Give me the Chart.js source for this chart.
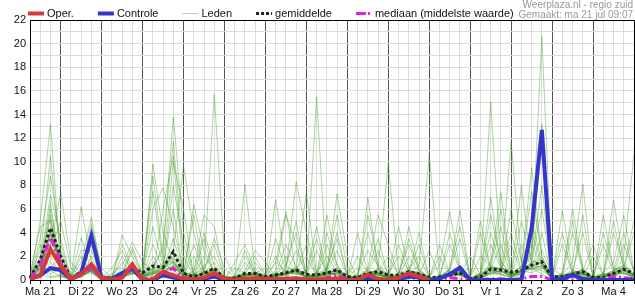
<!DOCTYPE html>
<html>
<head>
<meta charset="utf-8">
<script src="https://cdn.jsdelivr.net/npm/chart.js@4/dist/chart.umd.min.js"></script>
<style>
    html, body { margin: 0; padding: 0; background: #fff; }
    #wrap { width: 635px; height: 300px; position: relative; }
</style>
</head>
<body>
<div id="wrap"><canvas id="chart"></canvas></div>
<script>
// dagen (label op 12:00), reeks begint ma 21 06:00, stap 6 uur
const dagen = ['Ma 21', 'Di 22', 'Wo 23', 'Do 24', 'Vr 25', 'Za 26', 'Zo 27', 'Ma 28',
    'Di 29', 'Wo 30', 'Do 31', 'Vr 1', 'Za 2', 'Zo 3', 'Ma 4', 'Di 5'];
const uren = ['00:00', '06:00', '12:00', '18:00'];

// neerslag in mm per 6 uur
const oper = [0.1,0.35,2.6, 1.2,0.05,0.5,1.33, 0.15,0.05,0.2,1.33, 0,0.05,0.7,0.4, 0.1,0.05,0.2,0.56,
    0.1,0,0.1,0.15, 0.1,0.05,0.1,0.15, 0.05,0.05,0.1,0.1, 0,0,0.45,0.1, 0,0.2,0.55,0.3,
    0,null,null,null, null,null,null,null, null,null,null,null, null,null,null,null, null,null,null,null, null];
const controle = [0.1,0.4,1.0, 0.85,0.05,0.6,3.75, 0.15,0.1,0.6,1.0, 0,0,0.4,0.2, 0.1,0,0.1,0.3,
    0,0,0.05,0.1, 0.05,0,0.05,0.05, 0,0,0.05,0.1, 0,0,0.1,0.05, 0,0.05,0.3,0.2,
    0,0.1,0.5,1.04, 0,0,0,0, 0,0,4.37,12.7, 0,0.1,0.42,0.1, 0,0,0,0, 0];
const gemiddelde = [0.2,1.7,4.4, 2.0,0.1,0.7,1.2, 0.2,0.15,0.5,0.95, 0.6,1.18,1.07,2.4, 0.56,0.28,0.56,0.99,
    0.14,0.14,0.56,0.56, 0.28,0.42,0.6,0.85, 0.48,0.42,0.6,0.85, 0.28,0.2,0.56,0.7, 0.42,0.4,0.7,0.5,
    0.2,0.25,0.4,0.6, 0.1,0.25,0.93,0.85, 0.65,0.8,1.25,1.55, 0.28,0.28,0.48,0.7, 0.23,0.2,0.56,0.9, 0.56];
const mediaan = [0.1,1.2,3.6, 1.5,0.05,0.4,1.0, 0.1,0.05,0.3,0.9, 0.1,0.2,0.6,1.0, 0.2,0.1,0.2,0.5,
    0.05,0.05,0.1,0.15, 0.1,0.1,0.2,0.15, 0.05,0.05,0.2,0.4, 0.05,0.05,0.2,0.1, 0.05,0.1,0.2,0.1,
    0,0.05,0.2,0.1, 0,0.05,0.1,0.1, 0.05,0.1,0.3,0.3, 0,0.05,0.1,0.1, 0,0.1,0.3,0.2, 0.1];

const leden = [
    [0.2,3.5,8.8, 3,0.1,0.3,0.8, 0.1,0,0.4,2.5, 0.3,0.6,0.4,1.2, 1,0.2,3.5,0.5, 0,0.1,0.3,0.6, 1,0.2,0.5,2.5, 0.4,0.2,0.8,7.3, 2,0.1,0.3,0.6, 0.2,0.1,0.5,0.3, 0,0.2,4,0.8, 0,0.1,0.6,0.4, 0.3,8,1,0.5, 0,0.2,0.4,5.5, 0.1,0,0.3,0.6, 0.2],
    [0.1,0.8,5.5, 0.5,0,0.6,3, 0.2,0.3,1.5,0.6, 0.2,1.5,0.9,8, 3,0.4,0.6,0.8, 0.1,0,0.2,0.5, 0.3,6.8,1.2,0.7, 0.2,0.5,0.3,0.9, 0.1,0.4,4,1, 0.3,0.2,0.6,0.4, 2.5,0.3,0.5,0.7, 0.1,0.5,4,1.2, 0.3,0.8,2,13.2, 0.1,0.3,0.5,0.9, 0.2,0.4,0.8,4, 0.6],
    [0,1.2,3.5, 2,0.2,3.6,0.7, 0,0.1,0.5,0.9, 0.4,9.8,4,1.5, 0.3,0.2,0.7,0.9, 0.1,0.3,2.5,0.4, 0.1,0.4,0.6,0.5, 0.6,3.5,0.4,0.6, 0,0.2,0.5,0.3, 0.4,4.5,1,0.2, 0.1,0.2,0.6,0.4, 0,0.3,1.5,7.4, 0.8,0.6,1.2,2.5, 0.5,0.1,0.3,0.4, 0,0.2,0.5,0.7, 0.3],
    [0.3,5,13.2, 1.2,0,0.4,1, 0.1,0,0.3,0.8, 0.2,0.5,0.8,2, 0.5,2,0.4,0.6, 0,0.2,0.6,2, 0.4,0.2,1,5, 0.3,0.1,0.5,0.4, 0.2,2,0.6,0.5, 0.1,0.3,2,0.6, 0,0.2,0.4,0.6, 0.2,4,0.8,0.5, 0.2,0.4,1,4, 0,0.3,0.6,0.8, 0.1,0.5,6.8,1.5, 0.4],
    [0.1,0.6,4.5, 1,0.1,0.2,0.9, 0.2,0.5,1.2,3.2, 1.5,0.8,0.3,0.6, 0.2,0.1,0.8,3.5, 1,0.2,0.4,0.3, 0.2,0.5,0.3,0.6, 0.8,15.5,0.5,0.6, 0,0.1,0.3,1, 0.4,0.2,0.7,3, 0.2,0.1,0.3,0.5, 0,0.2,0.5,0.6, 6,1.5,0.8,1.2, 0.1,3,0.6,0.4, 0,0.3,0.4,0.8, 0.5],
    [0.2,2.5,2, 0.4,0.1,1.5,5.3, 0.5,0.1,0.2,0.6, 0.1,0.4,6,10.5, 0.6,0.1,0.2,0.5, 0,0.1,0.3,0.4, 0.1,0.3,0.6,0.8, 3,0.2,0.4,0.7, 0.3,0.1,7,0.9, 0.2,0.3,0.6,0.4, 0,0.1,1,4.5, 0.2,0.3,0.7,0.5, 0.2,0.6,5,1.5, 0,0.1,0.3,0.8, 3,0.4,0.5,0.6, 0.2],
    [0,1.5,7.2, 3.5,0.2,0.4,0.6, 0,0.2,0.3,1.2, 0.6,1.2,2.5,13.8, 4,0.5,0.3,0.8, 0.1,0,1.5,0.5, 0.2,0.6,0.4,0.9, 0.3,0.4,4,1.2, 0.2,0.1,0.4,0.6, 0.5,2,0.8,0.4, 0.1,0.3,0.5,0.9, 0.1,0.6,7,1.2, 0.4,0.5,1.5,8, 0,0.2,0.6,0.9, 0.3,0.1,0.5,2, 10.7],
    [0.4,4.5,5, 0.8,0,0.3,2, 0.1,0,0.2,0.5, 1,7.5,1.5,0.8, 0.2,0.4,1.2,2, 0.3,0.1,0.5,0.7, 0.3,1.5,5.8,0.6, 0.2,0.4,0.7,1, 0.1,0.3,0.8,3.5, 0.4,0.2,0.5,0.6, 0.1,3,0.6,0.4, 0,0.2,0.5,0.8, 3,0.6,1.2,1.5, 0.1,0.5,1.5,8.1, 0.2,0.3,0.6,0.9, 0.4],
    [0.1,1,6, 1.5,0,0.5,1.2, 0.3,0.2,2,0.8, 0.2,0.9,0.5,1.6, 0.4,6.4,2.5,0.6, 0.1,0.2,0.4,0.3, 0.5,2,0.4,0.8, 0.2,0.3,1,5.5, 1,0.2,0.5,0.4, 0.3,0.1,0.4,0.8, 0.2,0.1,0.6,0.5, 2,0.4,0.9,0.6, 0.5,1.2,9.5,2, 0.2,0.5,0.4,0.7, 0.1,4,1,0.5, 0.3],
    [0.2,2,1.5, 0.6,0.3,6.2,1.5, 0.1,0,0.4,0.9, 0.3,3,0.8,3.5, 0.5,0.3,0.4,1, 0.2,1,0.6,0.4, 0.1,0.3,0.9,8.3, 4,0.5,0.3,0.6, 0.2,0.1,0.4,0.5, 0.1,0.4,3.5,0.8, 0.2,0.1,0.3,0.6, 0,0.5,1.2,4.5, 0.4,0.8,1,1.5, 0.3,4,0.5,0.6, 0.1,0.2,0.7,1, 4],
    [0,0.7,4, 1.2,0.1,0.8,4, 0.3,0.1,0.6,1.5, 0.2,0.5,1,2.5, 9.7,4,0.6,0.5, 0,0.2,0.8,2.5, 1.5,0.3,0.5,0.7, 0.2,0.1,0.6,0.4, 0.1,0.5,2.5,1.2, 0.2,0.1,0.4,0.5, 0.3,1.2,5.8,1, 0.1,0.2,0.6,0.8, 0.2,1,3,1.2, 0,0.2,0.4,0.5, 0.3,0.6,1.5,5.5, 0.8],
    [0.3,1.8,10.5, 1.5,0.1,1,0.7, 0.1,0.1,0.3,0.6, 0.4,1,1.2,6, 0.5,0.6,4,1.2, 0.2,0.1,0.3,0.5, 0.2,0.5,3,1.1, 0.4,2.5,0.6,0.8, 0.1,0.3,0.5,0.9, 9.9,0.6,0.4,0.3, 0.1,0.2,0.6,0.7, 0.2,5,1,0.9, 0.3,0.7,2.5,12, 0.2,0.1,0.5,0.3, 2,0.4,0.3,0.8, 0.2],
    [0.1,3,0.8, 0.3,0,0.6,1.1, 0.2,0.3,3,1, 0.5,4.5,1.2,1.8, 0.3,0.5,1,15.7, 2,0.3,0.4,0.6, 0.1,0.4,0.7,0.5, 0.3,0.6,0.9,4, 0.4,0.1,0.3,0.5, 0.2,0.6,0.9,2, 0.1,0.4,0.8,0.6, 0.1,0.3,1.1,0.9, 4,0.8,0.6,1, 0.1,0.5,6,1, 0.1,0.3,0.5,0.6, 0.2],
    [0.2,1.4,3, 7.4,1.5,0.5,0.9, 0.2,0.1,0.5,0.7, 0.3,0.8,3,11.7, 2,0.3,0.5,0.8, 0.1,0.2,0.5,0.6, 0.3,0.4,1.3,4, 0.5,0.3,0.4,0.6, 0.2,1,0.4,0.5, 0.1,0.3,0.7,0.6, 0.2,2,0.5,0.4, 0.1,0.6,15.1,1.5, 0.5,0.8,1.5,6, 0.3,0.2,0.6,0.5, 0.1,0.3,4,1.2, 0.6],
    [0.1,1.1,6.5, 0.8,0,0.4,1.5, 0,0.2,0.6,2.8, 0.4,0.6,0.8,2.5, 0.5,0.2,0.7,0.9, 0.3,0.2,8.1,0.7, 0.2,0.3,0.8,0.6, 0.3,0.4,5.5,1.2, 0.2,0.3,0.6,0.4, 0.3,0.5,3,0.8, 0.1,0.3,0.5,0.9, 0.2,0.4,1.3,6, 0.5,0.7,1,0.8, 0.2,5.9,0.8,0.6, 0.1,0.4,0.8,1.2, 0.3],
    [0.3,1.5,0.5, 1,0.2,2,0.6, 0.1,0.1,0.4,0.8, 0.2,1,0.6,1.3, 0.3,0.8,5.5,4.5, 0.3,0.1,0.4,0.5, 0.2,0.6,0.4,0.9, 2,0.3,0.6,0.8, 0.4,0.2,1,5.5, 3,0.3,0.6,0.5, 0.1,0.2,0.4,0.6, 1,0.2,0.8,0.7, 0.4,3,1,1.2, 0.1,0.3,0.6,0.5, 0.2,3,0.6,0.8, 0.3],
    [0,0.9,3.8, 0.6,0.1,0.3,0.8, 0.2,1,2.5,0.7, 0.3,0.5,0.7,1, 0.4,3,0.6,0.5, 0.1,0.3,0.5,0.4, 0.2,3.5,0.8,1, 0.3,0.2,0.7,2.5, 0.3,0.2,0.6,0.8, 0.5,0.2,0.6,1.2, 10.6,0.4,0.3,0.5, 0.2,0.3,3,1, 0.6,0.4,1.5,1.8, 0.1,0.6,5,0.8, 0.2,0.5,0.4,1, 0.4],
    [0.2,1.3,2.5, 5,1,0.3,0.9, 0.1,0.2,0.3,0.5, 0.8,8.8,2,1.4, 0.2,0.4,0.6,0.7, 0.2,0.1,0.6,1.5, 0.3,0.2,0.5,0.9, 0.2,0.6,2,0.7, 0.1,0.3,0.8,0.6, 0.2,0.4,4.5,1, 0.1,0.2,0.7,0.5, 0.1,0.3,0.9,1, 0.5,1.1,7.5,2, 0.2,0.4,0.3,0.6, 0.1,0.2,0.5,1.1, 5],
    [0.1,1,0.3, 0.4,0.1,0.6,4.7, 1,0.2,0.5,0.8, 0.2,0.7,0.9,1.1, 0.3,0.5,0.8,3, 0.2,0.1,0.5,0.6, 0.1,0.8,5.5,3, 0.4,0.3,0.6,0.5, 0.2,0.3,5.5,1.4, 0.3,0.2,0.6,0.5, 0.1,0.3,0.6,0.4, 0.2,2,1.2,0.9, 11.7,1.5,0.9,1.3, 0.1,0.2,0.7,4, 0.3,0.2,0.6,0.9, 0.2],
    [0.3,1.6,5.2, 0.9,0,0.5,0.8, 0.2,0.1,1,0.6, 0.3,0.9,1.4,10, 6,0.3,0.5,0.7, 0.1,0.2,2,0.6, 0.2,0.3,0.6,0.8, 0.6,4.5,0.5,0.9, 0.2,0.1,0.6,0.7, 2,0.4,0.8,0.6, 0.1,0.2,0.8,3.5, 0.1,0.4,1,0.8, 0.3,0.9,2.2,20.6, 0.4,0.3,0.5,0.9, 0.1,0.3,0.8,1.3, 0.3],
    [0.1,0.6,1, 2,0.5,0.3,0.8, 0.1,0.2,0.4,0.6, 0.5,6,7.8,4.5, 0.7,0.2,0.5,0.6, 0.1,0.3,0.4,0.5, 0.2,1.5,0.7,0.8, 0.3,0.4,0.9,3.5, 0.3,0.1,0.5,0.6, 0.2,0.3,0.7,4, 0.1,0.3,0.4,0.5, 0.1,0.6,5.5,1.6, 0.4,0.8,1.3,1, 1,0.4,0.8,0.6, 0.2,0.5,0.6,3, 0.8],
    [0.2,1.2,4.2, 0.7,0,0.4,1, 0.2,0.1,3.8,2, 0.4,0.7,1.1,1.6, 0.3,0.4,2,0.8, 0.2,0.1,0.3,1, 0.2,0.4,0.6,0.9, 7.5,0.5,0.6,0.8, 0.2,0.3,0.6,2.5, 0.4,0.2,0.8,0.5, 0.1,0.3,3,0.8, 0.2,0.3,1.1,1, 0.5,5,1.6,1.4, 0.2,0.4,0.6,0.5, 0.1,5.5,0.9,1.1, 0.4],
    [0.1,0.9,3, 2.5,0.2,0.5,0.7, 0.1,0.2,0.5,1, 0.3,0.6,1,1.5, 0.5,5.5,0.6,1.5, 0.1,0.2,0.4,0.5, 0.1,0.3,2,0.7, 0.2,0.3,0.6,0.9, 0.1,4,0.6,0.5, 0.2,0.3,0.6,0.4, 0.2,0.3,0.9,5.9, 0.1,0.2,0.7,0.8, 0.3,0.6,4,1.3, 0.1,0.3,0.7,0.6, 0.2,0.4,5,1, 0.3],
    [0,0.5,0.2, 0.3,0.1,2.5,2.5, 0.2,0.1,0.4,0.6, 0.2,2,0.7,1.2, 0.3,0.2,0.6,0.5, 0.1,1.5,3,0.7, 0.2,0.3,0.6,0.8, 0.2,0.3,3,0.9, 0.1,0.2,0.5,0.7, 0.3,3,0.7,0.6, 0.1,0.3,0.5,0.8, 0.1,0.4,0.9,3, 0.3,0.7,1.2,1.5, 0.1,0.4,4,0.8, 0.2,0.3,0.6,0.9, 0.4]
];

const N = 60;
const tijden = [];
for (let i = 0; i < N; i++) {
    tijden.push(dagen[Math.floor((i + 1) / 4)] + ' ' + uren[(i + 1) % 4]);
}

const bad = [oper, controle, gemiddelde, mediaan, ...leden]
    .map((a, k) => [k, a.length]).filter(p => p[1] !== N);
if (bad.length) throw new Error('lengte fout: ' + JSON.stringify(bad));

const FONT = 'Arial, "Liberation Sans", sans-serif';
const ROOD = '#d43a3a';
const BLAUW = '#3535cc';
const MAGENTA = '#e020e0';
const LID_KLEUR = 'rgba(55, 150, 25, 0.4)';

function lijn(label, data, color, width, order, dash) {
    return {
        label,
        data,
        borderColor: color,
        backgroundColor: color,
        borderWidth: width,
        borderDash: dash || [],
        pointRadius: 0,
        tension: 0,
        fill: false,
        order
    };
}

const datasets = [
    lijn('Oper.', oper, ROOD, 4, 0),
    lijn('Controle', controle, BLAUW, 4, 1),
    lijn('mediaan (middelste waarde)', mediaan, MAGENTA, 3, 2, [8, 3, 2, 3]),
    lijn('gemiddelde', gemiddelde, '#222', 3, 3, [3, 2.5]),
    ...leden.map((l, k) => lijn('Leden', l, LID_KLEUR, 1, 5 + k))
];

// legenda + bronvermelding, zelf getekend
const legendItems = [
    { text: 'Oper.', color: ROOD, width: 4, dash: [] },
    { text: 'Controle', color: BLAUW, width: 4, dash: [] },
    { text: 'Leden', color: '#b8dca6', width: 1, dash: [] },
    { text: 'gemiddelde', color: '#222', width: 3, dash: [3, 2] },
    { text: 'mediaan (middelste waarde)', color: MAGENTA, width: 3, dash: [10, 2, 2, 3] }
];

const decorPlugin = {
    id: 'decor',
    afterDraw(chart) {
        const ctx = chart.ctx;
        const a = chart.chartArea;
        ctx.save();
        // rand boven en rechts
        ctx.strokeStyle = '#000';
        ctx.lineWidth = 1;
        ctx.beginPath();
        ctx.moveTo(a.left, Math.round(a.top) + 0.5);
        ctx.lineTo(a.right + 0.5, Math.round(a.top) + 0.5);
        ctx.moveTo(Math.round(a.right) + 0.5, a.top);
        ctx.lineTo(Math.round(a.right) + 0.5, a.bottom);
        ctx.stroke();

        // legenda
        ctx.font = '11px ' + FONT;
        ctx.textBaseline = 'middle';
        ctx.textAlign = 'left';
        let x = 28;
        const y = 13.5;
        legendItems.forEach(item => {
            ctx.strokeStyle = item.color;
            ctx.lineWidth = item.width;
            ctx.setLineDash(item.dash);
            ctx.beginPath();
            ctx.moveTo(x, y);
            ctx.lineTo(x + 16, y);
            ctx.stroke();
            ctx.setLineDash([]);
            ctx.fillStyle = '#111';
            ctx.fillText(item.text, x + 19, y);
            x += 19 + ctx.measureText(item.text).width + 24;
        });

        // bron
        ctx.fillStyle = '#999';
        ctx.font = '10px ' + FONT;
        ctx.textAlign = 'right';
        ctx.textBaseline = 'alphabetic';
        ctx.fillText('Weerplaza.nl - regio zuid', 633, 8);
        ctx.fillText('Gemaakt: ma 21 jul 09:07', 633, 17.5);
        ctx.restore();
    }
};

new Chart(document.getElementById('chart'), {
    type: 'line',
    data: { labels: tijden, datasets },
    options: {
        responsive: true,
        maintainAspectRatio: false,
        animation: false,
        events: [],
        layout: { padding: { top: 20, right: 1, left: 0, bottom: 0 } },
        plugins: {
            legend: { display: false },
            tooltip: { enabled: false }
        },
        scales: {
            x: {
                type: 'category',
                offset: false,
                afterFit: s => { s.height = 20; },
                border: { color: '#000', width: 1 },
                grid: {
                    color: c => (c.index % 4 === 3 ? '#555' : '#dcdcdc'),
                    drawTicks: true,
                    tickLength: 4,
                    tickColor: '#000'
                },
                ticks: {
                    autoSkip: false,
                    maxRotation: 0,
                    padding: 1,
                    color: '#111',
                    font: { size: 11, family: FONT },
                    callback: (v, i) => (i % 4 === 1 ? dagen[(i - 1) / 4] : '')
                }
            },
            y: {
                min: 0,
                max: 22,
                afterFit: s => { s.width = 30; },
                border: { color: '#000', width: 1 },
                grid: { color: '#dcdcdc', drawTicks: false },
                ticks: {
                    stepSize: 1,
                    autoSkip: false,
                    padding: 4,
                    color: '#111',
                    font: { size: 11, family: FONT },
                    callback: v => (v % 2 === 0 ? v : '')
                }
            }
        }
    },
    plugins: [decorPlugin]
});
</script>
</body>
</html>
